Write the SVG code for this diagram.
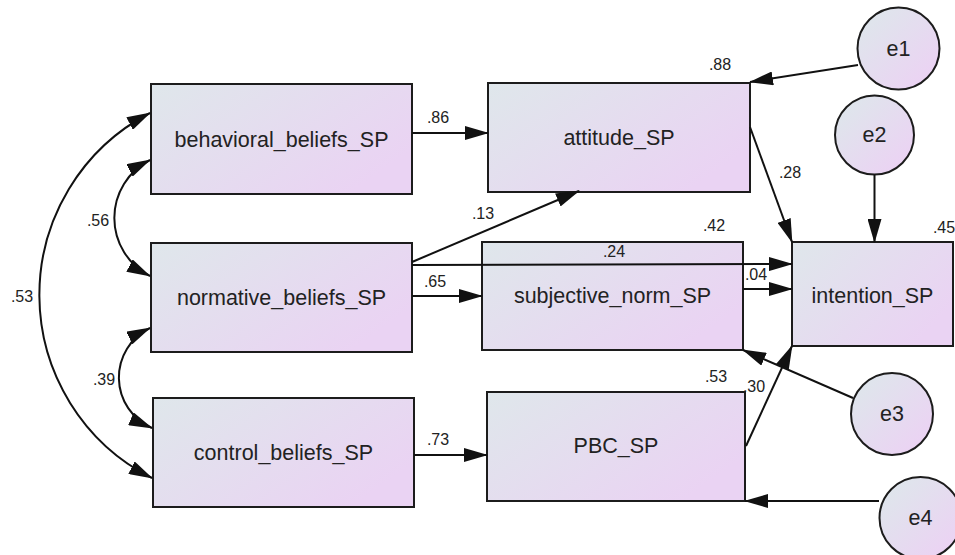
<svg xmlns="http://www.w3.org/2000/svg" width="955" height="555" viewBox="0 0 955 555">
<defs>
<linearGradient id="gBox" x1="0" y1="0" x2="1" y2="0.6">
<stop offset="0" stop-color="#dfe7eb"/>
<stop offset="1" stop-color="#ead3f3"/>
</linearGradient>
<linearGradient id="gCirc" x1="0.15" y1="0.15" x2="0.85" y2="0.85">
<stop offset="0" stop-color="#dfe5ec"/>
<stop offset="1" stop-color="#ebd3f3"/>
</linearGradient>
<marker id="ah" markerUnits="userSpaceOnUse" viewBox="0 0 24 14" markerWidth="24" markerHeight="14" refX="23" refY="7" orient="auto-start-reverse">
<path d="M0,0 L24,7 L0,14 z" fill="#111"/>
</marker>
</defs>
<style>
.box{fill:url(#gBox);stroke:#1c1c1c;stroke-width:2}
.circ{fill:url(#gCirc);stroke:#1c1c1c;stroke-width:2}
.nt{font-family:"Liberation Sans",Arial,sans-serif;font-size:21.5px;fill:#222;text-anchor:middle}
.lbl{font-family:"Liberation Sans",Arial,sans-serif;font-size:16px;fill:#222;text-anchor:middle}
.c{fill:none;stroke:#111;stroke-width:2;marker-end:url(#ah)}
.cc{fill:none;stroke:#111;stroke-width:2;marker-end:url(#ah);marker-start:url(#ah)}
</style>
<rect width="955" height="555" fill="#fff"/>
<g id="behavioral_beliefs_SP"><rect class="box" x="151" y="84" width="261" height="110"/><text class="nt" x="281.5" y="147">behavioral_beliefs_SP</text></g>
<g id="normative_beliefs_SP"><rect class="box" x="151" y="243" width="261" height="109"/><text class="nt" x="281.5" y="305">normative_beliefs_SP</text></g>
<g id="control_beliefs_SP"><rect class="box" x="153" y="398" width="261" height="109"/><text class="nt" x="283.5" y="460">control_beliefs_SP</text></g>
<g id="attitude_SP"><rect class="box" x="488" y="83" width="262" height="109"/><text class="nt" x="619" y="145">attitude_SP</text></g>
<g id="subjective_norm_SP"><rect class="box" x="482" y="242" width="261" height="108"/><text class="nt" x="612.5" y="303">subjective_norm_SP</text></g>
<g id="PBC_SP"><rect class="box" x="487" y="392" width="258" height="109"/><text class="nt" x="616" y="453">PBC_SP</text></g>
<g id="intention_SP"><rect class="box" x="792" y="242" width="161" height="104"/><text class="nt" x="872.5" y="303">intention_SP</text></g>
<g id="e1"><circle class="circ" cx="898.5" cy="48.5" r="41"/><text class="nt" x="898.5" y="56">e1</text></g>
<g id="e2"><circle class="circ" cx="874.5" cy="135" r="39.5"/><text class="nt" x="874.5" y="142">e2</text></g>
<g id="e3"><circle class="circ" cx="892" cy="414" r="41"/><text class="nt" x="892" y="421">e3</text></g>
<g id="e4"><circle class="circ" cx="920.5" cy="518" r="41"/><text class="nt" x="920.5" y="525">e4</text></g>
<g id="connectors">
<path class="c" d="M412,133 L488,133"/>
<path class="c" d="M412,262 L579,191"/>
<path class="c" d="M412,265 L792,264"/>
<path class="c" d="M412,296 L482,296"/>
<path class="c" d="M414,455 L487,455"/>
<path class="c" d="M743,289 L792,289"/>
<path class="c" d="M750,127 L792,242"/>
<path class="c" d="M746,446 L792,346"/>
<path class="c" d="M858,65 L750,82"/>
<path class="c" d="M874.5,174.5 L874.5,242"/>
<path class="c" d="M853,398 L743,350"/>
<path class="c" d="M879,501 L745,501"/>
<path class="cc" d="M150,113 A205,205 0 0 0 152,478"/>
<path class="cc" d="M150,160 A65,65 0 0 0 150,276"/>
<path class="cc" d="M150,328 A55,55 0 0 0 152,428"/>
</g>
<g id="labels">
<text class="lbl" x="438" y="123">.86</text>
<text class="lbl" x="720" y="70">.88</text>
<text class="lbl" x="483" y="219">.13</text>
<text class="lbl" x="714" y="231">.42</text>
<text class="lbl" x="614" y="257">.24</text>
<text class="lbl" x="944" y="233">.45</text>
<text class="lbl" x="790" y="178">.28</text>
<text class="lbl" x="435" y="287">.65</text>
<text class="lbl" x="756" y="280">.04</text>
<text class="lbl" x="716" y="382">.53</text>
<text class="lbl" x="754" y="392">.30</text>
<text class="lbl" x="438" y="445">.73</text>
<text class="lbl" x="22" y="302">.53</text>
<text class="lbl" x="104" y="385">.39</text>
<text class="lbl" x="98" y="226">.56</text>
</g>
</svg>
